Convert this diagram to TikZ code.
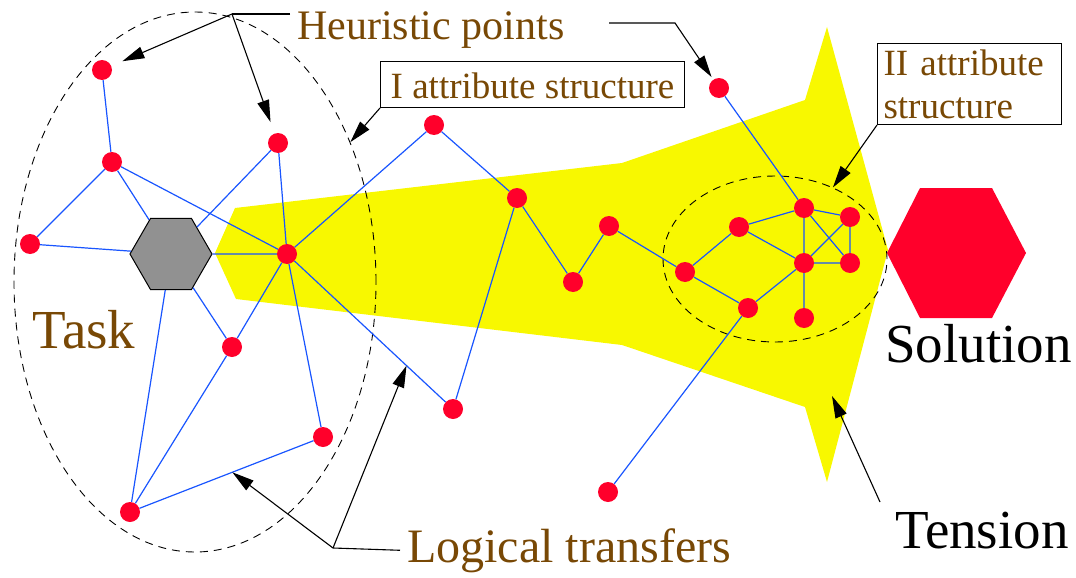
\documentclass[tikz,border=0pt]{standalone}
\usepackage{fontspec}
\setmainfont{Liberation Serif}
\usetikzlibrary{arrows.meta,shapes.geometric,calc}
\definecolor{lblbrown}{RGB}{120,72,5}
\definecolor{ptred}{RGB}{255,0,43}
\definecolor{linkblue}{RGB}{25,85,255}
\definecolor{taskgray}{RGB}{145,145,145}
\definecolor{tensionyel}{RGB}{248,248,0}
\tikzset{
  hdot/.style={circle,fill=ptred,minimum size=20pt,inner sep=0pt},
  link/.style={draw=linkblue,line width=1.2pt},
  ptarr/.style={-{Triangle[length=22pt,width=12pt]},line width=1.1pt},
  pline/.style={line width=1.1pt},
  zone/.style={draw,ellipse,line width=0.9pt,dash pattern=on 8pt off 6pt,inner sep=0pt},
  taskhex/.style={regular polygon,regular polygon sides=6,minimum size=82pt,inner sep=0pt,
                  fill=taskgray,draw=black,line width=1pt},
  lbl/.style={text=lblbrown,inner sep=0pt,anchor=base west},
  attrbox/.style={draw=black,fill=white,line width=1pt,text=lblbrown,anchor=north west,
                  font=\fontsize{37}{43}\selectfont}
}
\begin{document}
\begin{tikzpicture}[x=1pt,y=-1pt]
\useasboundingbox (0,0) rectangle (1076,578);
% tension area and solution
\fill[tensionyel] (215,253) -- (235,208) -- (622,163) -- (805,100) -- (827,27) -- (888,250)
  -- (827,482) -- (805,407) -- (622,345) -- (236,299) -- cycle;
\fill[ptred] (887,253) -- (920,188) -- (992,188) -- (1026,253) -- (992,318) -- (920,318) -- cycle;

% attribute structures
\node[zone, minimum width=362pt, minimum height=540pt] (zone1) at (195,282) {};
\node[zone, minimum width=224pt, minimum height=166pt] (zone2) at (775,259) {};

% task and heuristic points
\node[taskhex] (tasknd) at (171,254) {};
\node[hdot] (a1) at (102,70) {};
\node[hdot] (a2) at (112,162) {};
\node[hdot] (a3) at (30,244) {};
\node[hdot] (a4) at (278,143) {};
\node[hdot] (hub) at (287,254) {};
\node[hdot] (a5) at (232,347) {};
\node[hdot] (a6) at (323,437) {};
\node[hdot] (a7) at (130,512) {};
\node[hdot] (a8) at (453,409) {};
\node[hdot] (b1) at (434,125) {};
\node[hdot] (b2) at (517,198) {};
\node[hdot] (b3) at (573,282) {};
\node[hdot] (b4) at (609,226) {};
\node[hdot] (b5) at (685,272) {};
\node[hdot] (b6) at (719,88) {};
\node[hdot] (b7) at (608,492) {};
\node[hdot] (c1) at (739,227) {};
\node[hdot] (c2) at (804,208) {};
\node[hdot] (c3) at (850,217) {};
\node[hdot] (c4) at (804,263) {};
\node[hdot] (c5) at (850,263) {};
\node[hdot] (c6) at (748,308) {};
\node[hdot] (c7) at (804,318) {};

% logical transfers
\draw[link] (a1) -- (a2) (a2) -- (a3) (a2) -- (tasknd) (a2) -- (hub) (a3) -- (tasknd);
\draw[link] (a4) -- (tasknd) (a4) -- (hub) (tasknd) -- (hub) (hub) -- (b1);
\draw[link] (hub) -- (a5) (hub) -- (a6) (hub) -- (a8) (a5) -- (tasknd) (a5) -- (a7);
\draw[link] (a7) -- (tasknd) (a7) -- (a6);
\draw[link] (b1) -- (b2) (b2) -- (b3) (b3) -- (b4) (b4) -- (b5) (b2) -- (a8);
\draw[link] (b5) -- (c1) (b5) -- (c6) (b6) -- (c2) (c6) -- (b7);
\draw[link] (c1) -- (c2) (c1) -- (c4) (c2) -- (c3) (c2) -- (c4) (c2) -- (c5);
\draw[link] (c3) -- (c4) (c3) -- (c5) (c4) -- (c5) (c4) -- (c6) (c4) -- (c7);

% labels
\node[lbl, font=\fontsize{42}{44}\selectfont] (hp) at (297,40) {Heuristic points};
\node[lbl, font=\fontsize{55}{58}\selectfont] (task) at (32,348) {Task};
\node[lbl, font=\fontsize{55}{58}\selectfont, text=black] (sol) at (885,362) {Solution};
\node[lbl, font=\fontsize{55}{58}\selectfont, text=black] (tens) at (895,548) {Tension};
\node[lbl, font=\fontsize{48}{50}\selectfont] (lt) at (407,562) {Logical transfers};
\node[attrbox, text height=28pt, text depth=0pt, inner ysep=9pt, inner xsep=8pt,
      minimum width=304pt] (box1) at (380,61) {I attribute structure};
\node[attrbox, text width=172pt, align=left, inner ysep=6pt, inner xsep=6pt]
      (box2) at (877,43) {II attribute\\structure};

% pointers
\coordinate (hpj) at (232,14);
\coordinate (hpe) at (290,14);
\draw[pline] (hpe) -- (hpj);
\draw[ptarr, shorten >=12pt] (hpj) -- (a1);
\draw[ptarr, shorten >=12pt] (hpj) -- (a4);
\coordinate (hpr) at (609,23);
\coordinate (hpk) at (675,23);
\draw[ptarr, shorten >=3pt] (hpr) -- (hpk) -- (b6);
\draw[ptarr] (box1.south west) -- (zone1.42);
\draw[ptarr] (box2.south west) -- (zone2.51);
\coordinate (ltj) at (333,548);
\draw[pline] ([xshift=-7pt]lt.west) -- (ltj);
\draw[ptarr] (ltj) -- ($(a7)!0.53!(a6)$);
\draw[ptarr] (ltj) -- ($(hub)!0.72!(a8)$);
\coordinate (tsj) at (880,502);
\coordinate (tsp) at (832,396);
\draw[ptarr] (tsj) -- (tsp);
\end{tikzpicture}
\end{document}
